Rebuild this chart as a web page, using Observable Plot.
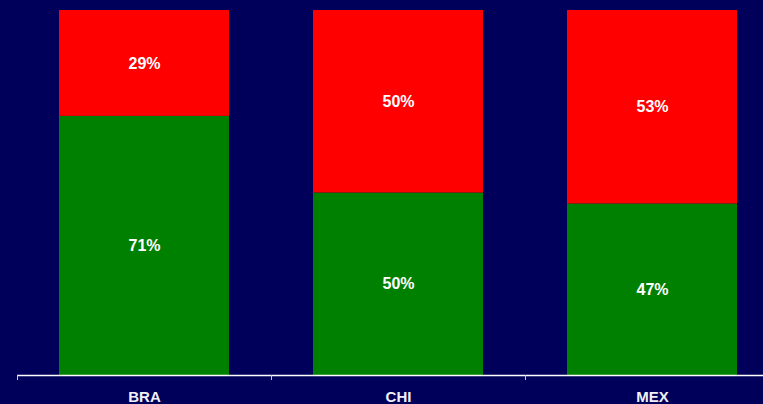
<!DOCTYPE html>
<html>
<head>
<meta charset="utf-8">
<script src="https://cdn.jsdelivr.net/npm/d3@7"></script>
<script src="https://cdn.jsdelivr.net/npm/@observablehq/plot@0.6"></script>
<style>
  html, body { margin: 0; padding: 0; background: #00005a; }
</style>
</head>
<body>
<div id="chart"></div>
<script>
const countries = ["BRA", "CHI", "MEX"];
const seriesNames = ["Green", "Red"];
const greenShare = [71, 50, 47];
const redShare = [29, 50, 53];

const data = [];
countries.forEach((c, i) => {
  data.push({country: c, series: seriesNames[0], value: greenShare[i]});
  data.push({country: c, series: seriesNames[1], value: redShare[i]});
});

const W = 763, H = 404;
const xRange = [17, 779];
const step = (xRange[1] - xRange[0]) / countries.length;

const chart = Plot.plot({
  width: W,
  height: H,
  marginTop: 10,
  marginBottom: 29,
  marginLeft: 17,
  marginRight: 0,
  style: {background: "#00005a", fontFamily: "'Liberation Sans', Arial, sans-serif", overflow: "visible"},
  x: {domain: countries, range: xRange, paddingInner: 0.33, paddingOuter: 0.165, axis: null, label: null},
  y: {domain: [0, 100], axis: null},
  color: {domain: seriesNames, range: ["#008000", "#ff0000"]},
  marks: [
    Plot.barY(data, Plot.stackY({x: "country", y: "value", fill: "series", z: "series", order: seriesNames})),
    Plot.text(data, Plot.stackY({x: "country", y: "value", z: "series", order: seriesNames, text: d => d.value + "%", fill: "white", fontSize: 16, fontWeight: "bold"})),
    Plot.ruleY([0], {stroke: "white", strokeWidth: 1.5}),
    Plot.axisX(countries, {tickSize: 5, tickFormat: () => "", label: null, dx: -step / 2, stroke: "#c8c8d8"}),
    Plot.axisX(countries, {tickSize: 0, tickPadding: 16, label: null, fontSize: 15, fontWeight: "bold", fill: "#f0f0f8"})
  ]
});
document.getElementById("chart").appendChild(chart);
</script>
</body>
</html>
